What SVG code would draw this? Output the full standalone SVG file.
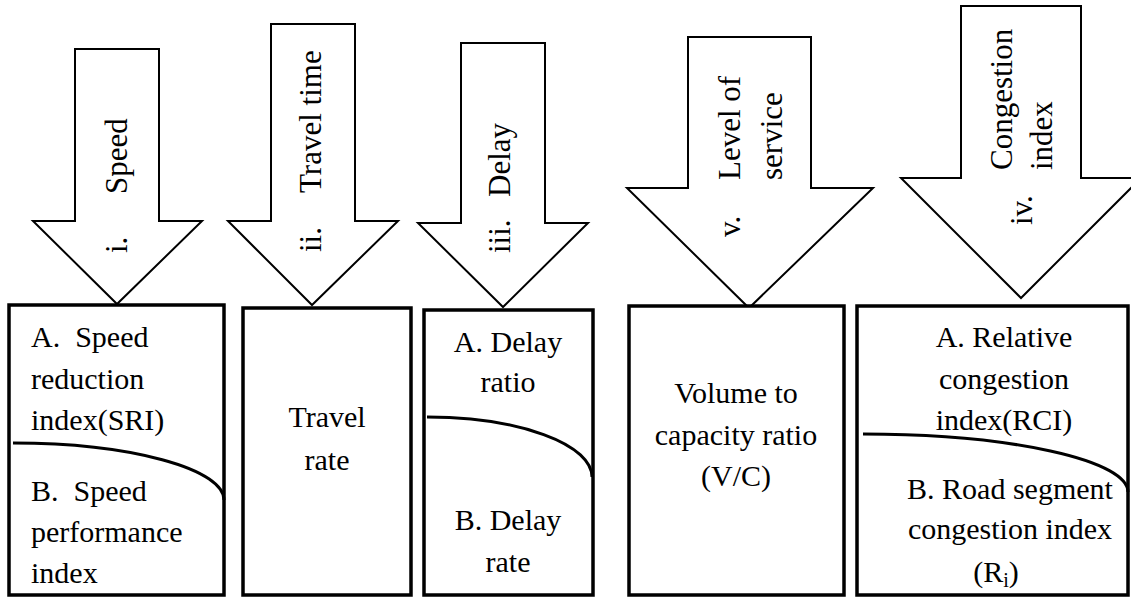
<svg xmlns="http://www.w3.org/2000/svg" width="1131" height="598" viewBox="0 0 1131 598">
<rect width="1131" height="598" fill="#fff"/>
<g id="connectors" fill="#fff" stroke="#000" stroke-width="2">
<polygon id="arrow-speed" points="75,49 159,49 159,221 202,221 117,304 33,221 75,221"/>
<polygon id="arrow-travel" points="271,24 355,24 355,221 398,221 312,305 228,221 271,221"/>
<polygon id="arrow-delay" points="461,43 545,43 545,223 588,223 503,307 418,223 461,223"/>
<polygon id="arrow-los" points="688,37 811,37 811,188 873,188 749,308 627,188 688,188"/>
<polygon id="arrow-ci" points="961,6 1081,6 1081,178 1141,178 1021,298 901,178 961,178"/>
</g>
<g id="arrow-labels">
<text style="font-family:'Liberation Serif';font-size:31px" transform="translate(127,253) rotate(-90)">i.</text>
<text style="font-family:'Liberation Serif';font-size:31px" transform="translate(127,194) rotate(-90)">Speed</text>
<text style="font-family:'Liberation Serif';font-size:31px" transform="translate(321,252) rotate(-90)">ii.</text>
<text style="font-family:'Liberation Serif';font-size:31px" transform="translate(321,193) rotate(-90)">Travel time</text>
<text style="font-family:'Liberation Serif';font-size:31px" transform="translate(510,253) rotate(-90)">iii.</text>
<text style="font-family:'Liberation Serif';font-size:31px" transform="translate(510,197) rotate(-90)">Delay</text>
<text style="font-family:'Liberation Serif';font-size:31px" transform="translate(740,237) rotate(-90)">v.</text>
<text style="font-family:'Liberation Serif';font-size:31px" transform="translate(740,180) rotate(-90)">Level of</text>
<text style="font-family:'Liberation Serif';font-size:31px" transform="translate(782,180) rotate(-90)">service</text>
<text style="font-family:'Liberation Serif';font-size:31px" transform="translate(1032,225) rotate(-90)">iv.</text>
<text style="font-family:'Liberation Serif';font-size:31px" transform="translate(1012,170) rotate(-90)">Congestion</text>
<text style="font-family:'Liberation Serif';font-size:31px" transform="translate(1052,170) rotate(-90)">index</text>
</g>
<g id="box-speed">
<rect x="9" y="305" width="215" height="290" fill="#fff" stroke="#000" stroke-width="3.5"/>
<path d="M13,443 A211,57 0 0 1 224,500" fill="none" stroke="#000" stroke-width="3"/>
<text style="font-family:'Liberation Serif';font-size:30px;white-space:pre" x="31" y="347">A.  Speed</text>
<text style="font-family:'Liberation Serif';font-size:30px" x="31" y="389">reduction</text>
<text style="font-family:'Liberation Serif';font-size:30px" x="31" y="430">index(SRI)</text>
<text style="font-family:'Liberation Serif';font-size:30px;white-space:pre" x="31" y="501">B.  Speed</text>
<text style="font-family:'Liberation Serif';font-size:30px" x="31" y="542">performance</text>
<text style="font-family:'Liberation Serif';font-size:30px" x="31" y="583">index</text>
</g>
<g id="box-travel">
<rect x="243" y="308" width="168" height="287" fill="#fff" stroke="#000" stroke-width="3.5"/>
<text style="font-family:'Liberation Serif';font-size:30px" text-anchor="middle" x="327" y="427">Travel</text>
<text style="font-family:'Liberation Serif';font-size:30px" text-anchor="middle" x="327" y="470">rate</text>
</g>
<g id="box-delay">
<rect x="424" y="310" width="169" height="285" fill="#fff" stroke="#000" stroke-width="3.5"/>
<path d="M427,417 A165,60 0 0 1 592,477" fill="none" stroke="#000" stroke-width="3"/>
<text style="font-family:'Liberation Serif';font-size:30px" text-anchor="middle" x="508" y="352">A. Delay</text>
<text style="font-family:'Liberation Serif';font-size:30px" text-anchor="middle" x="508" y="392">ratio</text>
<text style="font-family:'Liberation Serif';font-size:30px" text-anchor="middle" x="508" y="530">B. Delay</text>
<text style="font-family:'Liberation Serif';font-size:30px" text-anchor="middle" x="508" y="572">rate</text>
</g>
<g id="box-vc">
<rect x="629" y="306" width="215" height="289" fill="#fff" stroke="#000" stroke-width="3.5"/>
<text style="font-family:'Liberation Serif';font-size:30px" text-anchor="middle" x="736" y="403">Volume to</text>
<text style="font-family:'Liberation Serif';font-size:30px" text-anchor="middle" x="736" y="445">capacity ratio</text>
<text style="font-family:'Liberation Serif';font-size:30px" text-anchor="middle" x="736" y="486">(V/C)</text>
</g>
<g id="box-ci">
<rect x="857" y="306" width="271" height="289" fill="#fff" stroke="#000" stroke-width="3.5"/>
<path d="M863,434 A265,58 0 0 1 1128,492" fill="none" stroke="#000" stroke-width="3"/>
<text style="font-family:'Liberation Serif';font-size:30px" text-anchor="middle" x="1004" y="347">A. Relative</text>
<text style="font-family:'Liberation Serif';font-size:30px" text-anchor="middle" x="1004" y="389">congestion</text>
<text style="font-family:'Liberation Serif';font-size:30px" text-anchor="middle" x="1004" y="430">index(RCI)</text>
<text style="font-family:'Liberation Serif';font-size:30px" text-anchor="middle" x="1010" y="499">B. Road segment</text>
<text style="font-family:'Liberation Serif';font-size:30px" text-anchor="middle" x="1010" y="539">congestion index</text>
<text style="font-family:'Liberation Serif';font-size:30px" text-anchor="middle" x="996" y="582">(R<tspan style="font-size:20px" dy="5">i</tspan><tspan dy="-5">)</tspan></text>
</g>
</svg>
